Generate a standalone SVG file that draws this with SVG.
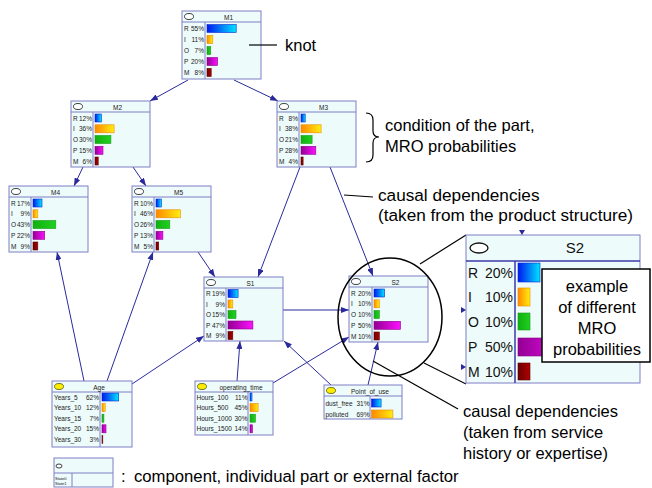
<svg xmlns="http://www.w3.org/2000/svg" width="652" height="488" viewBox="0 0 652 488">
  <defs>
    <style>
      .node { fill: #eefbfb; stroke: #7f7fc6; stroke-width: 1; }
      .sep { stroke: #7f7fc6; stroke-width: 1; }
      .hole { fill: #ffffff; stroke: #111111; stroke-width: 0.8; }
      .ext { fill: #ffee00; stroke: #555500; stroke-width: 0.8; }
      .t { font-family: "Liberation Sans", Arial, sans-serif; font-size: 6.5px; fill: #1a1a1a; }
      .tc { text-anchor: middle; }
      .te { text-anchor: end; }
      .ann { font-family: "Liberation Sans", Arial, sans-serif; font-size: 16.5px; fill: #000000; }
      .ann17 { font-size: 17.2px; }
      .leg { font-size: 16.7px; }
      .edge { stroke: #2a2a9c; stroke-width: 1; fill: none; marker-end: url(#ah); }
      .ptr { stroke: #000000; stroke-width: 1.2; fill: none; }
      .bR { fill: url(#gR); stroke: #0a2ad0; stroke-width: 0.6; }
      .bI { fill: url(#gI); stroke: #e88a00; stroke-width: 0.6; }
      .bO { fill: url(#gO); stroke: #1a9a1a; stroke-width: 0.6; }
      .bP { fill: url(#gP); stroke: #8a008a; stroke-width: 0.6; }
      .bM { fill: url(#gM); stroke: #5a0000; stroke-width: 0.6; }
    </style>
    <linearGradient id="gR" x1="0" y1="0" x2="1" y2="0"><stop offset="0" stop-color="#0018f0"/><stop offset="1" stop-color="#00e4ff"/></linearGradient>
    <linearGradient id="gI" x1="0" y1="0" x2="1" y2="0"><stop offset="0" stop-color="#ff8800"/><stop offset="1" stop-color="#ffee10"/></linearGradient>
    <linearGradient id="gO" x1="0" y1="0" x2="1" y2="0"><stop offset="0" stop-color="#10b010"/><stop offset="1" stop-color="#20d020"/></linearGradient>
    <linearGradient id="gP" x1="0" y1="0" x2="1" y2="0"><stop offset="0" stop-color="#920092"/><stop offset="1" stop-color="#ff10ff"/></linearGradient>
    <linearGradient id="gM" x1="0" y1="0" x2="1" y2="0"><stop offset="0" stop-color="#6a0000"/><stop offset="1" stop-color="#b00000"/></linearGradient>
    <marker id="ah" markerWidth="8" markerHeight="6" refX="8" refY="3" orient="auto" markerUnits="userSpaceOnUse">
      <path d="M0,0 L8,3 L0,6 z" fill="#2a2a9c"/>
    </marker>
  </defs>

  <rect width="652" height="488" fill="#ffffff"/>

  <!-- connectors -->
  <g id="connectors">
    <path class="edge" d="M188,80 L150,101"/>
    <path class="edge" d="M234,80 L278,101"/>
    <path class="edge" d="M83,167 L74,186"/>
    <path class="edge" d="M133,167 L146,186"/>
    <path class="edge" d="M300,167 L258,277"/>
    <path class="edge" d="M330,167 L373,276"/>
    <path class="edge" d="M198,252 L215,277"/>
    <path class="edge" d="M84,381 L57,252"/>
    <path class="edge" d="M107,381 L153,252"/>
    <path class="edge" d="M132,384 L204,336"/>
    <path class="edge" d="M237,381 L240,341"/>
    <path class="edge" d="M273,383 L349,337"/>
    <path class="edge" d="M331,385 L284,341"/>
    <path class="edge" d="M368,385 L378,342"/>
    <path class="edge" d="M283,310 L349,310"/>
  </g>

  <!-- M1 -->
  <g id="M1" transform="translate(182,11)">
    <rect class="node" x="0" y="0" width="79" height="68"/>
    <line class="sep" x1="0" y1="11" x2="79" y2="11"/><line class="sep" x1="23" y1="11" x2="23" y2="68"/>
    <ellipse class="hole" cx="7" cy="5.5" rx="4.5" ry="3"/>
    <text class="t tc" x="46.5" y="8.5">M1</text>
    <text class="t" x="2" y="20">R</text><text class="t te" x="22" y="20">55%</text>
    <text class="t" x="2" y="31">I</text><text class="t te" x="22" y="31">11%</text>
    <text class="t" x="2" y="42">O</text><text class="t te" x="22" y="42">7%</text>
    <text class="t" x="2" y="53">P</text><text class="t te" x="22" y="53">20%</text>
    <text class="t" x="2" y="64">M</text><text class="t te" x="22" y="64">8%</text>
    <rect class="bR" x="25" y="13.5" width="29.2" height="8"/>
    <rect class="bI" x="25" y="24.5" width="5.8" height="8"/>
    <rect class="bO" x="25" y="35.5" width="3.7" height="8"/>
    <rect class="bP" x="25" y="46.5" width="10.6" height="8"/>
    <rect class="bM" x="25" y="57.5" width="4.2" height="8"/>
  </g>

  <!-- M2 -->
  <g id="M2" transform="translate(71,101)">
    <rect class="node" x="0" y="0" width="79" height="66"/>
    <line class="sep" x1="0" y1="11" x2="79" y2="11"/><line class="sep" x1="22" y1="11" x2="22" y2="66"/>
    <ellipse class="hole" cx="7" cy="5.5" rx="4.5" ry="3"/>
    <text class="t tc" x="46.5" y="8.5">M2</text>
    <text class="t" x="2" y="19.5">R</text><text class="t te" x="21" y="19.5">12%</text>
    <text class="t" x="2" y="30.3">I</text><text class="t te" x="21" y="30.3">36%</text>
    <text class="t" x="2" y="41">O</text><text class="t te" x="21" y="41">30%</text>
    <text class="t" x="2" y="51.8">P</text><text class="t te" x="21" y="51.8">15%</text>
    <text class="t" x="2" y="62.5">M</text><text class="t te" x="21" y="62.5">6%</text>
    <rect class="bR" x="24" y="13" width="6.4" height="8"/>
    <rect class="bI" x="24" y="23.8" width="19.1" height="8"/>
    <rect class="bO" x="24" y="34.5" width="15.9" height="8"/>
    <rect class="bP" x="24" y="45.3" width="8" height="8"/>
    <rect class="bM" x="24" y="56" width="3.2" height="8"/>
  </g>

  <!-- M3 -->
  <g id="M3" transform="translate(277,101)">
    <rect class="node" x="0" y="0" width="79" height="66"/>
    <line class="sep" x1="0" y1="11" x2="79" y2="11"/><line class="sep" x1="22" y1="11" x2="22" y2="66"/>
    <ellipse class="hole" cx="7" cy="5.5" rx="4.5" ry="3"/>
    <text class="t tc" x="46.5" y="8.5">M3</text>
    <text class="t" x="2" y="19.5">R</text><text class="t te" x="21" y="19.5">8%</text>
    <text class="t" x="2" y="30.3">I</text><text class="t te" x="21" y="30.3">38%</text>
    <text class="t" x="2" y="41">O</text><text class="t te" x="21" y="41">21%</text>
    <text class="t" x="2" y="51.8">P</text><text class="t te" x="21" y="51.8">28%</text>
    <text class="t" x="2" y="62.5">M</text><text class="t te" x="21" y="62.5">4%</text>
    <rect class="bR" x="24" y="13" width="4.2" height="8"/>
    <rect class="bI" x="24" y="23.8" width="20.1" height="8"/>
    <rect class="bO" x="24" y="34.5" width="11.1" height="8"/>
    <rect class="bP" x="24" y="45.3" width="14.8" height="8"/>
    <rect class="bM" x="24" y="56" width="2.1" height="8"/>
  </g>

  <!-- M4 -->
  <g id="M4" transform="translate(9,186)">
    <rect class="node" x="0" y="0" width="79" height="66"/>
    <line class="sep" x1="0" y1="11" x2="79" y2="11"/><line class="sep" x1="22" y1="11" x2="22" y2="66"/>
    <ellipse class="hole" cx="7" cy="5.5" rx="4.5" ry="3"/>
    <text class="t tc" x="46.5" y="8.5">M4</text>
    <text class="t" x="2" y="19.5">R</text><text class="t te" x="21" y="19.5">17%</text>
    <text class="t" x="2" y="30.3">I</text><text class="t te" x="21" y="30.3">9%</text>
    <text class="t" x="2" y="41">O</text><text class="t te" x="21" y="41">43%</text>
    <text class="t" x="2" y="51.8">P</text><text class="t te" x="21" y="51.8">22%</text>
    <text class="t" x="2" y="62.5">M</text><text class="t te" x="21" y="62.5">9%</text>
    <rect class="bR" x="24" y="13" width="9" height="8"/>
    <rect class="bI" x="24" y="23.8" width="4.8" height="8"/>
    <rect class="bO" x="24" y="34.5" width="22.8" height="8"/>
    <rect class="bP" x="24" y="45.3" width="11.7" height="8"/>
    <rect class="bM" x="24" y="56" width="4.8" height="8"/>
  </g>

  <!-- M5 -->
  <g id="M5" transform="translate(132,186)">
    <rect class="node" x="0" y="0" width="79" height="66"/>
    <line class="sep" x1="0" y1="11" x2="79" y2="11"/><line class="sep" x1="22" y1="11" x2="22" y2="66"/>
    <ellipse class="hole" cx="7" cy="5.5" rx="4.5" ry="3"/>
    <text class="t tc" x="46.5" y="8.5">M5</text>
    <text class="t" x="2" y="19.5">R</text><text class="t te" x="21" y="19.5">10%</text>
    <text class="t" x="2" y="30.3">I</text><text class="t te" x="21" y="30.3">46%</text>
    <text class="t" x="2" y="41">O</text><text class="t te" x="21" y="41">26%</text>
    <text class="t" x="2" y="51.8">P</text><text class="t te" x="21" y="51.8">13%</text>
    <text class="t" x="2" y="62.5">M</text><text class="t te" x="21" y="62.5">5%</text>
    <rect class="bR" x="24" y="13" width="5.3" height="8"/>
    <rect class="bI" x="24" y="23.8" width="24.4" height="8"/>
    <rect class="bO" x="24" y="34.5" width="13.8" height="8"/>
    <rect class="bP" x="24" y="45.3" width="6.9" height="8"/>
    <rect class="bM" x="24" y="56" width="2.7" height="8"/>
  </g>

  <!-- S1 -->
  <g id="S1" transform="translate(204,277)">
    <rect class="node" x="0" y="0" width="79" height="64"/>
    <line class="sep" x1="0" y1="11" x2="79" y2="11"/><line class="sep" x1="22" y1="11" x2="22" y2="64"/>
    <ellipse class="hole" cx="7" cy="5.5" rx="4.5" ry="3"/>
    <text class="t tc" x="46.5" y="8.5">S1</text>
    <text class="t" x="2" y="19">R</text><text class="t te" x="21" y="19">19%</text>
    <text class="t" x="2" y="29.5">I</text><text class="t te" x="21" y="29.5">9%</text>
    <text class="t" x="2" y="40">O</text><text class="t te" x="21" y="40">15%</text>
    <text class="t" x="2" y="50.5">P</text><text class="t te" x="21" y="50.5">47%</text>
    <text class="t" x="2" y="61">M</text><text class="t te" x="21" y="61">9%</text>
    <rect class="bR" x="24" y="12.5" width="10.1" height="8"/>
    <rect class="bI" x="24" y="23" width="4.8" height="8"/>
    <rect class="bO" x="24" y="33.5" width="8" height="8"/>
    <rect class="bP" x="24" y="44" width="24.9" height="8"/>
    <rect class="bM" x="24" y="54.5" width="4.8" height="8"/>
  </g>

  <!-- S2 -->
  <g id="S2" transform="translate(349,276)">
    <rect class="node" x="0" y="0" width="79" height="66"/>
    <line class="sep" x1="0" y1="11" x2="79" y2="11"/><line class="sep" x1="23" y1="11" x2="23" y2="66"/>
    <ellipse class="hole" cx="7" cy="5.5" rx="4.5" ry="3"/>
    <text class="t tc" x="46.5" y="8.5">S2</text>
    <text class="t" x="2" y="19.5">R</text><text class="t te" x="22" y="19.5">20%</text>
    <text class="t" x="2" y="30.3">I</text><text class="t te" x="22" y="30.3">10%</text>
    <text class="t" x="2" y="41">O</text><text class="t te" x="22" y="41">10%</text>
    <text class="t" x="2" y="51.8">P</text><text class="t te" x="22" y="51.8">50%</text>
    <text class="t" x="2" y="62.5">M</text><text class="t te" x="22" y="62.5">10%</text>
    <rect class="bR" x="25" y="13" width="10.6" height="8"/>
    <rect class="bI" x="25" y="23.8" width="5.3" height="8"/>
    <rect class="bO" x="25" y="34.5" width="5.3" height="8"/>
    <rect class="bP" x="25" y="45.3" width="26.5" height="8"/>
    <rect class="bM" x="25" y="56" width="5.3" height="8"/>
  </g>

  <!-- Age -->
  <g id="Age" transform="translate(52,381)">
    <rect class="node" x="0" y="0" width="80" height="66"/>
    <line class="sep" x1="0" y1="11" x2="80" y2="11"/><line class="sep" x1="48" y1="11" x2="48" y2="66"/>
    <ellipse class="ext" cx="7" cy="5.5" rx="4.5" ry="3"/>
    <text class="t tc" x="47" y="8.5">Age</text>
    <text class="t" x="2" y="18.5">Years_5</text><text class="t te" x="47" y="18.5">62%</text>
    <text class="t" x="2" y="29.1">Years_10</text><text class="t te" x="47" y="29.1">12%</text>
    <text class="t" x="2" y="39.7">Years_15</text><text class="t te" x="47" y="39.7">7%</text>
    <text class="t" x="2" y="50.3">Years_20</text><text class="t te" x="47" y="50.3">15%</text>
    <text class="t" x="2" y="60.9">Years_30</text><text class="t te" x="47" y="60.9">3%</text>
    <rect class="bR" x="50" y="12" width="16.7" height="8"/>
    <rect class="bI" x="50" y="22.6" width="3.2" height="8"/>
    <rect class="bO" x="50" y="33.2" width="1.9" height="8"/>
    <rect class="bP" x="50" y="43.8" width="4" height="8"/>
    <rect class="bM" x="50" y="54.4" width="0.8" height="8"/>
  </g>

  <!-- operating_time -->
  <g id="operating_time" transform="translate(195,381)">
    <rect class="node" x="0" y="0" width="78" height="54"/>
    <line class="sep" x1="0" y1="11" x2="78" y2="11"/><line class="sep" x1="53" y1="11" x2="53" y2="54"/>
    <ellipse class="ext" cx="7" cy="5.5" rx="4.5" ry="3"/>
    <text class="t tc" x="46" y="8.5">operating_time</text>
    <text class="t" x="1.5" y="18.5">Hours_100</text><text class="t te" x="52.5" y="18.5">11%</text>
    <text class="t" x="1.5" y="29.1">Hours_500</text><text class="t te" x="52.5" y="29.1">45%</text>
    <text class="t" x="1.5" y="39.7">Hours_1000</text><text class="t te" x="52.5" y="39.7">30%</text>
    <text class="t" x="1.5" y="50.3">Hours_1500</text><text class="t te" x="52.5" y="50.3">14%</text>
    <rect class="bR" x="55" y="12" width="2" height="8"/>
    <rect class="bI" x="55" y="22.6" width="8.1" height="8"/>
    <rect class="bO" x="55" y="33.2" width="5.4" height="8"/>
    <rect class="bP" x="55" y="43.8" width="2.5" height="8"/>
  </g>

  <!-- Point_of_use -->
  <g id="Point_of_use" transform="translate(324,385)">
    <rect class="node" x="0" y="0" width="78" height="34"/>
    <line class="sep" x1="0" y1="11" x2="78" y2="11"/><line class="sep" x1="46" y1="11" x2="46" y2="34"/>
    <ellipse class="ext" cx="7" cy="5.5" rx="4.5" ry="3"/>
    <text class="t tc" x="46" y="8.5">Point_of_use</text>
    <text class="t" x="1.5" y="20.5">dust_free</text><text class="t te" x="45.5" y="20.5">31%</text>
    <text class="t" x="1.5" y="31.5">polluted</text><text class="t te" x="45.5" y="31.5">69%</text>
    <rect class="bR" x="47.5" y="14" width="9.6" height="8"/>
    <rect class="bI" x="47.5" y="25" width="21.4" height="8"/>
  </g>

  <!-- annotations -->
  <g id="annotations">
    <line class="ptr" x1="249" y1="45" x2="277" y2="45"/>
    <text class="ann" x="285" y="51">knot</text>

    <path class="ptr" d="M366,113 Q373,113 373,120 L373,131 Q373,137 379,137 Q373,137 373,143 L373,155 Q373,162 366,162"/>
    <text class="ann" x="385" y="131">condition of the part,</text>
    <text class="ann" x="385" y="152">MRO probabilities</text>

    <line class="ptr" x1="344" y1="195" x2="373" y2="197"/>
    <text class="ann ann17" x="378" y="201">causal dependencies</text>
    <text class="ann ann17" x="378" y="221">(taken from the product structure)</text>

    <line class="ptr" x1="373" y1="361" x2="458" y2="409"/>
    <text class="ann" x="463" y="417">causal dependencies</text>
    <text class="ann" x="463" y="438">(taken from service</text>
    <text class="ann" x="463" y="459">history or expertise)</text>
  </g>

  <!-- magnifier: circle round S2 and enlarged copy -->
  <g id="S2_zoom">
    <ellipse cx="390" cy="317" rx="52" ry="59" fill="none" stroke="#000000" stroke-width="1.5"/>
    <line class="ptr" x1="420" y1="264" x2="466" y2="235"/>
    <line class="ptr" x1="424" y1="363" x2="466" y2="384"/>
    <rect class="node" x="466" y="235" width="174" height="148" stroke-width="1.5" stroke="#3a3aa8"/>
    <line x1="466" y1="261" x2="640" y2="261" stroke="#3a3aa8" stroke-width="1.5"/>
    <line x1="515" y1="261" x2="515" y2="383" stroke="#3a3aa8" stroke-width="1.5"/>
    <ellipse cx="479" cy="248" rx="9" ry="5" fill="#ffffff" stroke="#111111" stroke-width="1.3"/>
    <path d="M461,307 L466,310 L461,313 z" fill="#2a2a9c"/>
    <path d="M461,364 L466,367 L461,370 z" fill="#2a2a9c"/>
    <path d="M519,230 L522,235 L525,230 z" fill="#2a2a9c"/>
    <g font-family="'Liberation Sans', Arial, sans-serif" font-size="14" fill="#111111">
      <text x="575" y="253" text-anchor="middle" font-size="15">S2</text>
      <text x="468" y="278">R</text><text x="513" y="278" text-anchor="end">20%</text>
      <text x="468" y="302">I</text><text x="513" y="302" text-anchor="end">10%</text>
      <text x="468" y="327">O</text><text x="513" y="327" text-anchor="end">10%</text>
      <text x="468" y="352">P</text><text x="513" y="352" text-anchor="end">50%</text>
      <text x="468" y="377">M</text><text x="513" y="377" text-anchor="end">10%</text>
    </g>
    <rect class="bR" x="518" y="263" width="22" height="19" stroke-width="1"/>
    <rect class="bI" x="518" y="288" width="12" height="18" stroke-width="1"/>
    <rect class="bO" x="518" y="313" width="12" height="17" stroke-width="1"/>
    <rect class="bP" x="518" y="338" width="57" height="18" stroke-width="1"/>
    <rect class="bM" x="518" y="363" width="12" height="17" stroke-width="1"/>
    <rect x="542" y="269" width="108" height="93" fill="#ffffff" stroke="#000000" stroke-width="1.5"/>
    <g font-family="'Liberation Sans', Arial, sans-serif" font-size="16.5" fill="#000000" text-anchor="middle">
      <text x="597" y="292">example</text>
      <text x="597" y="313">of different</text>
      <text x="597" y="334">MRO</text>
      <text x="597" y="355">probabilities</text>
    </g>
  </g>

  <!-- legend -->
  <g id="legend">
    <g transform="translate(54,458)">
      <rect class="node" x="0" y="0" width="59" height="29"/>
      <line class="sep" x1="0" y1="15" x2="59" y2="15"/><line class="sep" x1="18" y1="15" x2="18" y2="29"/>
      <ellipse class="hole" cx="5" cy="8" rx="3" ry="2"/>
      <text x="1" y="21.5" font-family="'Liberation Sans', Arial, sans-serif" font-size="4" fill="#111111">State0</text>
      <text x="1" y="27" font-family="'Liberation Sans', Arial, sans-serif" font-size="4" fill="#111111">State1</text>
    </g>
    <text class="ann leg" x="121" y="482">:</text>
    <text class="ann leg" x="134" y="482">component, individual part or external factor</text>
  </g>
</svg>
